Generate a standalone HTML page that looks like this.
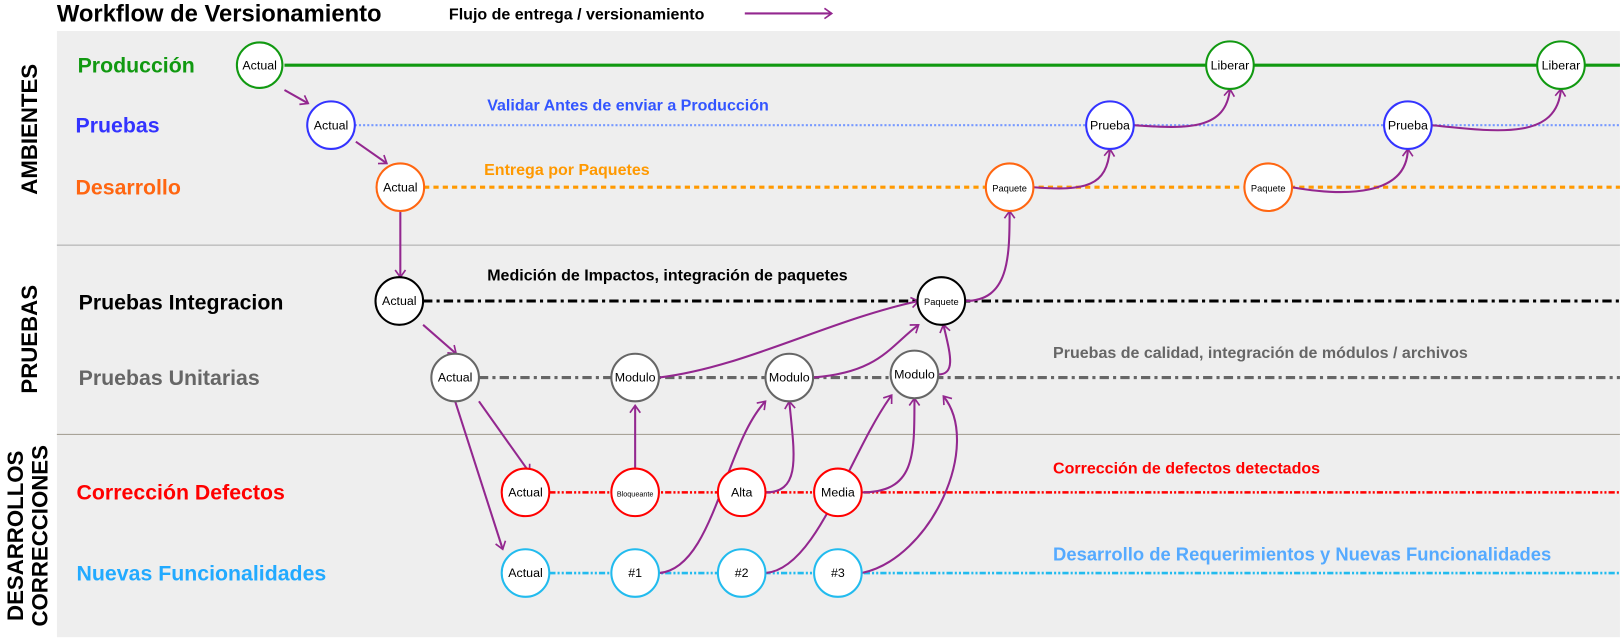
<!DOCTYPE html>
<html><head><meta charset="utf-8"><style>
body{margin:0;background:#fff}
svg{display:block;font-family:"Liberation Sans",sans-serif}
</style></head><body>
<svg width="1622" height="641" viewBox="0 0 1568 619.7" preserveAspectRatio="none" xmlns="http://www.w3.org/2000/svg">
<defs>
<marker id="a" markerWidth="12" markerHeight="12" refX="9" refY="6" orient="auto" markerUnits="userSpaceOnUse">
<path d="M2,1 L9,6 L2,11" fill="none" stroke="#93278f" stroke-width="1.6"/></marker>
</defs>
<rect x="55" y="30" width="1511" height="586" fill="#eeeeee"/>
<line x1="55" y1="237" x2="1566" y2="237" stroke="#a9a9a9" stroke-width="1"/>
<line x1="55" y1="420" x2="1566" y2="420" stroke="#a8a398" stroke-width="1"/>

<text x="55" y="21" font-size="23" font-weight="bold">Workflow de Versionamiento</text>
<text x="434" y="19" font-size="15.5" font-weight="bold">Flujo de entrega / versionamiento</text>
<line x1="720" y1="13" x2="804" y2="13" stroke="#93278f" stroke-width="2" marker-end="url(#a)"/>

<g font-size="21.5" font-weight="bold" text-anchor="middle">
<text transform="translate(36,125) rotate(-90)">AMBIENTES</text>
<text transform="translate(36,328) rotate(-90)">PRUEBAS</text>
<text transform="translate(22,518) rotate(-90)">DESARROLLOS</text>
<text transform="translate(46,518) rotate(-90)">CORRECCIONES</text>
</g>

<g font-size="20.6" font-weight="bold">
<text x="75" y="70" fill="#119911">Producción</text>
<text x="73" y="128" fill="#3333ff">Pruebas</text>
<text x="73" y="188" fill="#ff6611">Desarrollo</text>
<text x="76" y="299" fill="#000">Pruebas Integracion</text>
<text x="76" y="372" fill="#666">Pruebas Unitarias</text>
<text x="74" y="483" fill="#ff0000">Corrección Defectos</text>
<text x="74" y="561" fill="#22aaff">Nuevas Funcionalidades</text>
</g>
<g font-size="15.5" font-weight="bold">
<text x="471" y="107" fill="#3355ff">Validar Antes de enviar a Producción</text>
<text x="468" y="169" fill="#ff9900">Entrega por Paquetes</text>
<text x="471" y="271" fill="#000">Medición de Impactos, integración de paquetes</text>
<text x="1018" y="346" fill="#666">Pruebas de calidad, integración de módulos / archivos</text>
<text x="1018" y="458" fill="#ff0000">Corrección de defectos detectados</text>
<text x="1018" y="542" fill="#55aaff" font-size="17.8">Desarrollo de Requerimientos y Nuevas Funcionalidades</text>
</g>

<line x1="275" y1="63" x2="1566" y2="63" stroke="#119911" stroke-width="3"/>
<line x1="343" y1="121" x2="1566" y2="121" stroke="#7799ff" stroke-width="2" stroke-dasharray="2,2"/>
<line x1="410" y1="181" x2="1566" y2="181" stroke="#ff9900" stroke-width="3" stroke-dasharray="5,4"/>
<line x1="409" y1="291" x2="1566" y2="291" stroke="#000" stroke-width="3" stroke-dasharray="9,4,3,4"/>
<line x1="463" y1="365" x2="1566" y2="365" stroke="#666" stroke-width="3" stroke-dasharray="9,4,3,4"/>
<line x1="531" y1="476" x2="1566" y2="476" stroke="#ff0000" stroke-width="2.5" stroke-dasharray="6,2,2,2,2,2"/>
<line x1="531" y1="554" x2="1566" y2="554" stroke="#22bbee" stroke-width="2.5" stroke-dasharray="6,2,2,2,2,2"/>

<g fill="none" stroke="#93278f" stroke-width="2" marker-end="url(#a)">
<line x1="275" y1="87" x2="298" y2="100"/>
<line x1="344" y1="137" x2="374" y2="158"/>
<line x1="387" y1="204" x2="387" y2="268"/>
<line x1="409" y1="314" x2="441" y2="342"/>
<line x1="463" y1="388" x2="512" y2="457"/>
<line x1="440" y1="388" x2="486" y2="531"/>
<path d="M614,453 L614,392"/>
<path d="M637,365 C720,355 800,310 888,291"/>
<path d="M786,365 C850,360 860,335 888,314"/>
<path d="M907,362 C925,362 918,340 912,314"/>
<path d="M740,476 C775,476 768,440 763,388"/>
<path d="M833,476 C885,476 884,440 884,385"/>
<path d="M637,554 C690,550 700,430 740,388"/>
<path d="M740,554 C790,550 820,440 862,382"/>
<path d="M833,554 C900,540 950,430 912,383"/>
<path d="M933,291 C975,291 976,250 976,204"/>
<path d="M999,181 C1050,185 1070,180 1073,144"/>
<path d="M1096,121 C1150,125 1185,125 1189,86"/>
<path d="M1249,181 C1300,190 1360,190 1361,144"/>
<path d="M1384,121 C1450,128 1505,135 1509,86"/>
</g>

<g stroke-width="2" fill="#fff">
<g stroke="#119911"><circle cx="251" cy="63" r="22"/><circle cx="1189" cy="63" r="23"/><circle cx="1509" cy="63" r="23"/></g>
<g stroke="#3333ff"><circle cx="320" cy="121" r="23"/><circle cx="1073" cy="121" r="23"/><circle cx="1361" cy="121" r="23"/></g>
<g stroke="#ff6611"><circle cx="387" cy="181" r="23"/><circle cx="976" cy="181" r="23"/><circle cx="1226" cy="181" r="23"/></g>
<g stroke="#000"><circle cx="386" cy="291" r="23"/><circle cx="910" cy="291" r="23"/></g>
<g stroke="#666"><circle cx="440" cy="365" r="23"/><circle cx="614" cy="365" r="23"/><circle cx="763" cy="365" r="23"/><circle cx="884" cy="362" r="23"/></g>
<g stroke="#ff0000"><circle cx="508" cy="476" r="23"/><circle cx="614" cy="476" r="23"/><circle cx="717" cy="476" r="23"/><circle cx="810" cy="476" r="23"/></g>
<g stroke="#22bbee"><circle cx="508" cy="554" r="23"/><circle cx="614" cy="554" r="23"/><circle cx="717" cy="554" r="23"/><circle cx="810" cy="554" r="23"/></g>
</g>
<g font-size="12" text-anchor="middle" fill="#000">
<text x="251" y="67">Actual</text><text x="1189" y="67">Liberar</text><text x="1509" y="67">Liberar</text>
<text x="320" y="125">Actual</text><text x="1073" y="125">Prueba</text><text x="1361" y="125">Prueba</text>
<text x="387" y="185">Actual</text><text x="976" y="185" font-size="9">Paquete</text><text x="1226" y="185" font-size="9">Paquete</text>
<text x="386" y="295">Actual</text><text x="910" y="295" font-size="9">Paquete</text>
<text x="440" y="369">Actual</text><text x="614" y="369">Modulo</text><text x="763" y="369">Modulo</text><text x="884" y="366">Modulo</text>
<text x="508" y="480">Actual</text><text x="614" y="480" font-size="7">Bloqueante</text><text x="717" y="480">Alta</text><text x="810" y="480">Media</text>
<text x="508" y="558">Actual</text><text x="614" y="558">#1</text><text x="717" y="558">#2</text><text x="810" y="558">#3</text>
</g>
</svg>
</body></html>
